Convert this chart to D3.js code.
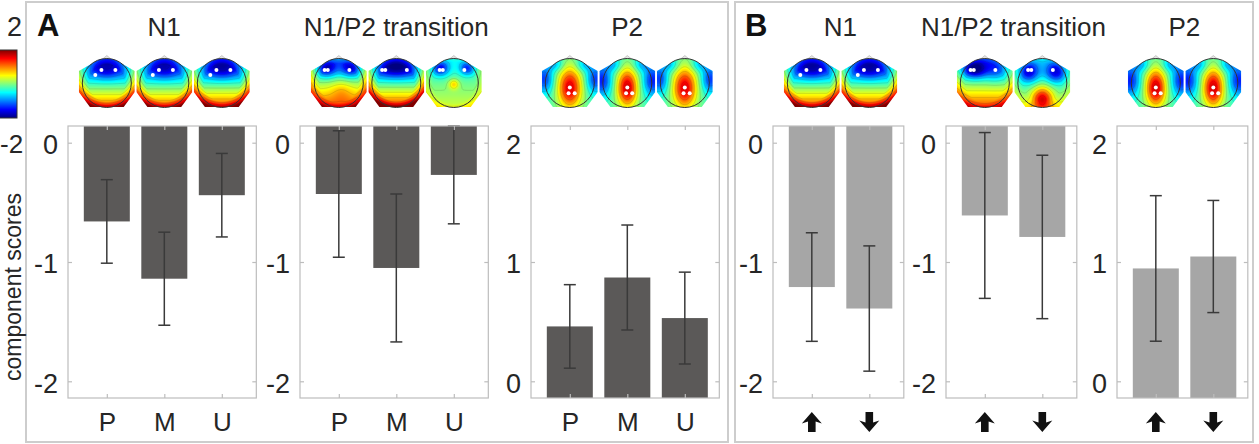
<!DOCTYPE html>
<html>
<head>
<meta charset="utf-8">
<script src="https://cdn.jsdelivr.net/npm/d3@7/dist/d3.min.js"></script>
<style>
  body { margin: 0; background: #fff; }
  svg { display: block; font-family: "Liberation Sans", Arial, sans-serif; }
</style>
</head>
<body>
<div id="graphic"></div>
<script>
// ---- data ----
const conditionsA = ['P', 'M', 'U'];
const conditionsB = ['up', 'down'];
const componentNames = ['N1', 'N1/P2 transition', 'P2'];

const meansA_N1 = [-0.66, -1.14, -0.44];
const errA_N1 = [0.35, 0.39, 0.35];
const meansA_N1P2 = [-0.43, -1.05, -0.27];
const errA_N1P2 = [0.53, 0.62, 0.41];
const meansA_P2 = [0.46, 0.87, 0.53];
const errA_P2 = [0.35, 0.44, 0.385];

const meansB_N1 = [-1.21, -1.39];
const errB_N1 = [0.455, 0.525];
const meansB_N1P2 = [-0.61, -0.79];
const errB_N1P2 = [0.695, 0.685];
const meansB_P2 = [0.946, 1.046];
const errB_P2 = [0.61, 0.47];

const yDomainNeg = [-2.14, 0.14];
const yDomainPos = [-0.14, 2.14];
const yTicksNeg = [-2, -1, 0];
const yTicksPos = [0, 1, 2];
const colorbarTicks = ['2', '-2'];
const yAxisLabel = 'component scores';

// scalp map descriptions: base level, front-back slope, rim term, gaussian blobs [x, y, amp, sx, sy], electrodes
const dotsN1 = [[-0.47, -0.33], [-0.22, -0.53], [0.35, -0.53]];
const topoN1 = { c0: 0.42, cv: 0.38, cr: 0.6, r0: 0.75, blobs: [[0, -0.5, -0.15, 0.42, 0.25]], dots: dotsN1 };
const topoN1b = { c0: 0.43, cv: 0.4, cr: 0.6, r0: 0.75, blobs: [[0, -0.5, -0.17, 0.45, 0.25]], dots: dotsN1 };
const dotsTrans = [[-0.58, -0.53], [-0.45, -0.53], [0.43, -0.53]];
const topoTransP = { c0: 0.53, cv: 0.3, cr: 0.5, r0: 0.8, blobs: [[-0.5, -0.6, -0.3, 0.3, 0.25], [0.5, -0.6, -0.28, 0.3, 0.25], [0.1, 0.3, 0.08, 0.3, 0.3]], dots: dotsTrans };
const topoTransM = { c0: 0.44, cv: 0.42, cr: 0.7, r0: 0.75, blobs: [[0, -0.55, -0.2, 0.55, 0.25]], dots: dotsTrans };
const topoTransU = { c0: 0.48, cv: 0.1, cr: 0.25, r0: 0.85, blobs: [[-0.55, -0.6, -0.3, 0.25, 0.22], [0.55, -0.6, -0.26, 0.22, 0.2], [0, 0.05, 0.18, 0.15, 0.15]], dots: dotsTrans };
const topoTransUp = { c0: 0.5, cv: 0.32, cr: 0.35, r0: 0.8, blobs: [[-0.4, -0.55, -0.36, 0.35, 0.25], [0.45, -0.5, -0.14, 0.3, 0.3]], dots: dotsTrans };
const topoTransDown = { c0: 0.45, cv: 0.1, cr: 0.2, r0: 0.8, blobs: [[-0.55, -0.45, -0.32, 0.3, 0.3], [0.55, -0.45, -0.32, 0.3, 0.3], [0, 0.65, 0.4, 0.3, 0.35]], dots: dotsTrans };
const dotsP2 = [[0, 0.18], [-0.05, 0.42], [0.2, 0.42]];
const topoP2 = { c0: 0.45, cv: 0, cr: 0, r0: 1, blobs: [[0, 0.2, 0.46, 0.35, 0.6], [-1.05, -0.15, -0.27, 0.26, 0.4], [1.05, -0.15, -0.27, 0.26, 0.4], [-0.6, -0.75, -0.14, 0.25, 0.2], [0.6, -0.75, -0.14, 0.25, 0.2]], dots: dotsP2 };
const topoP2b = { c0: 0.45, cv: 0, cr: 0, r0: 1, blobs: [[0, 0.2, 0.48, 0.3, 0.55], [-1.05, -0.1, -0.3, 0.28, 0.45], [1.05, -0.1, -0.3, 0.28, 0.45], [-0.6, -0.75, -0.14, 0.25, 0.2], [0.6, -0.75, -0.14, 0.25, 0.2]], dots: dotsP2 };

// ---- layout ----
const width = 1259, height = 444;
const axTop = 126, axBottom = 398;
const unitPx = 57.5;
const headY = 83, headR = 24.5;

const panels = [
    { left: 68, title: componentNames[0], cats: conditionsA, means: meansA_N1, errs: errA_N1, neg: true, fill: '#5b5958', topos: [topoN1, topoN1, topoN1b] },
    { left: 300, title: componentNames[1], cats: conditionsA, means: meansA_N1P2, errs: errA_N1P2, neg: true, fill: '#5b5958', topos: [topoTransP, topoTransM, topoTransU] },
    { left: 531, title: componentNames[2], cats: conditionsA, means: meansA_P2, errs: errA_P2, neg: false, fill: '#5b5958', topos: [topoP2, topoP2b, topoP2] },
    { left: 773, title: componentNames[0], cats: conditionsB, means: meansB_N1, errs: errB_N1, neg: true, fill: '#a6a6a6', topos: [topoN1b, topoN1b] },
    { left: 946, title: componentNames[1], cats: conditionsB, means: meansB_N1P2, errs: errB_N1P2, neg: true, fill: '#a6a6a6', topos: [topoTransUp, topoTransDown] },
    { left: 1117, title: componentNames[2], cats: conditionsB, means: meansB_P2, errs: errB_P2, neg: false, fill: '#a6a6a6', topos: [topoP2b, topoP2b] }
];

const svg = d3.select('#graphic').append('svg')
    .attr('width', width)
    .attr('height', height);

const defs = svg.append('defs');

function jet(t) {
    t = Math.max(0, Math.min(1, t));
    const f = (c) => Math.max(0, Math.min(1, 1.5 - Math.abs(4 * t - c)));
    return [f(3), f(2), f(1)].map((v) => Math.round(v * 255));
}

// panel frames
svg.append('rect').attr('x', 26).attr('y', 2).attr('width', 702).attr('height', 440)
    .attr('fill', 'none').attr('stroke', '#cdcdcd').attr('stroke-width', 2);
svg.append('rect').attr('x', 735).attr('y', 2).attr('width', 518).attr('height', 440)
    .attr('fill', 'none').attr('stroke', '#cdcdcd').attr('stroke-width', 2);

svg.append('text').attr('x', 37).attr('y', 36).text('A')
    .attr('font-size', 31).attr('font-weight', 'bold').attr('fill', '#111');
svg.append('text').attr('x', 745).attr('y', 36).text('B')
    .attr('font-size', 31).attr('font-weight', 'bold').attr('fill', '#111');

// colour bar
const grad = defs.append('linearGradient').attr('id', 'jetGrad')
    .attr('x1', 0).attr('y1', 1).attr('x2', 0).attr('y2', 0);
d3.range(0, 1.0001, 0.0625).forEach((t) => {
    const c = jet(t);
    grad.append('stop').attr('offset', t).attr('stop-color', `rgb(${c.join(',')})`);
});
svg.append('rect').attr('x', -1).attr('y', 50).attr('width', 18).attr('height', 68)
    .attr('fill', 'url(#jetGrad)').attr('stroke', '#333').attr('stroke-width', 1);
svg.append('text').attr('x', 22).attr('y', 36).attr('text-anchor', 'end')
    .attr('font-size', 27).attr('fill', '#262626').text(colorbarTicks[0]);
svg.append('text').attr('x', 0).attr('y', 153).attr('text-anchor', 'start')
    .attr('font-size', 26).attr('fill', '#262626').text(colorbarTicks[1]);

svg.append('text')
    .attr('transform', 'translate(21,287) rotate(-90)')
    .attr('text-anchor', 'middle')
    .attr('font-size', 23)
    .attr('fill', '#262626')
    .text(yAxisLabel);

// scalp shape clip, centred on 0,0
const shape = [[-1.14, -0.49], [-1.14, 0.37], [-0.69, 0.98], [0.69, 0.98], [1.14, 0.37], [1.14, -0.49], [0.57, -0.82]]
    .map(([u, v]) => [u * headR, v * headR]);
const shapePath = 'M' + shape.map((p) => p.join(',')).join('L') +
    `A${headR},${headR} 0 0 0 ${-0.57 * headR},${-0.82 * headR}Z`;
defs.append('clipPath').attr('id', 'scalpClip')
    .append('path').attr('d', shapePath);

const S = 60;
function fieldValues(spec) {
    const vals = new Array(S * S);
    for (let j = 0; j < S; j++) {
        for (let i = 0; i < S; i++) {
            const u = (i + 0.5 - S / 2) / headR;
            const v = (j + 0.5 - S / 2) / headR;
            const r = Math.sqrt(u * u + v * v);
            let t = spec.c0 + spec.cv * v + spec.cr * Math.max(0, r - spec.r0);
            spec.blobs.forEach(([bx, by, a, sx, sy]) => {
                t += a * Math.exp(-((u - bx) ** 2 / (2 * sx * sx) + (v - by) ** 2 / (2 * sy * sy)));
            });
            vals[j * S + i] = t;
        }
    }
    return vals;
}

function drawTopo(cx, spec) {
    const vals = fieldValues(spec);
    const canvas = document.createElement('canvas');
    canvas.width = S; canvas.height = S;
    const ctx = canvas.getContext('2d');
    const img = ctx.createImageData(S, S);
    vals.forEach((t, k) => {
        const c = jet(t);
        img.data[k * 4] = c[0]; img.data[k * 4 + 1] = c[1]; img.data[k * 4 + 2] = c[2]; img.data[k * 4 + 3] = 255;
    });
    ctx.putImageData(img, 0, 0);

    const g = svg.append('g').attr('transform', `translate(${cx},${headY})`);
    const inner = g.append('g').attr('clip-path', 'url(#scalpClip)');
    inner.append('image')
        .attr('x', -S / 2).attr('y', -S / 2).attr('width', S).attr('height', S)
        .attr('href', canvas.toDataURL());

    // faint contour lines
    const contours = d3.contours().size([S, S]).thresholds(d3.range(0.06, 1, 0.09))(vals);
    inner.append('g').attr('transform', `translate(${-S / 2},${-S / 2})`)
        .selectAll('path').data(contours).join('path')
        .attr('d', d3.geoPath())
        .attr('fill', 'none')
        .attr('stroke', 'rgba(40,40,40,0.25)')
        .attr('stroke-width', 0.5);

    g.append('path')
        .attr('d', `M${-0.16 * headR},${-0.99 * headR}L0,${-1.12 * headR}L${0.16 * headR},${-0.99 * headR}`)
        .attr('fill', '#e4e4e4').attr('stroke', '#aaa').attr('stroke-width', 0.6);
    g.append('circle').attr('r', headR)
        .attr('fill', 'none').attr('stroke', '#333').attr('stroke-width', 1);
    g.selectAll('circle.dot').data(spec.dots).join('circle')
        .attr('class', 'dot')
        .attr('cx', (d) => d[0] * headR).attr('cy', (d) => d[1] * headR)
        .attr('r', 2).attr('fill', '#fff');
}

function arrowPath(up) {
    const s = up ? 1 : -1;
    const pts = [[0, -10], [10, 1.5], [3.8, -0.5], [3.8, 10], [-3.8, 10], [-3.8, -0.5], [-10, 1.5]];
    return 'M' + pts.map(([a, b]) => `${a},${b * s}`).join('L') + 'Z';
}

function drawPanel(p) {
    const n = p.cats.length;
    const axW = unitPx * (n + 0.275);
    const x = d3.scaleLinear().domain([0.325, n + 0.6]).range([p.left, p.left + axW]);
    const y = d3.scaleLinear().domain(p.neg ? yDomainNeg : yDomainPos).range([axBottom, axTop]);
    const base = p.neg ? y.domain()[1] : y.domain()[0];
    const ticks = p.neg ? yTicksNeg : yTicksPos;
    const idx = d3.range(1, n + 1);

    const g = svg.append('g');

    // bars
    g.selectAll('rect.bar').data(p.means).join('rect')
        .attr('class', 'bar')
        .attr('x', (d, i) => x(i + 1 - 0.4))
        .attr('width', x(1.4) - x(0.6))
        .attr('y', (d) => Math.min(y(d), y(base)))
        .attr('height', (d) => Math.abs(y(d) - y(base)))
        .attr('fill', p.fill);

    // error bars, clipped to the axis limits
    const [lo, hi] = y.domain();
    const errG = g.append('g').attr('stroke', '#3a3a3a').attr('stroke-width', 1.5);
    p.means.forEach((m, i) => {
        const cx = x(i + 1);
        const top = Math.min(hi, m + p.errs[i]);
        const bot = Math.max(lo, m - p.errs[i]);
        errG.append('line').attr('x1', cx).attr('x2', cx).attr('y1', y(top)).attr('y2', y(bot));
        if (m + p.errs[i] < hi) errG.append('line').attr('x1', cx - 6).attr('x2', cx + 6).attr('y1', y(top)).attr('y2', y(top));
        if (m - p.errs[i] > lo) errG.append('line').attr('x1', cx - 6).attr('x2', cx + 6).attr('y1', y(bot)).attr('y2', y(bot));
    });

    // axis box and inward ticks
    const boxColor = '#bdbdbd';
    const leftAxis = g.append('g').attr('transform', `translate(${p.left},0)`)
        .call(d3.axisLeft(y).tickValues(ticks).tickSize(-4).tickPadding(10).tickFormat((d) => String(d)));
    const rightAxis = g.append('g').attr('transform', `translate(${p.left + axW},0)`)
        .call(d3.axisRight(y).tickValues(ticks).tickSize(-4).tickFormat(''));
    const topAxis = g.append('g').attr('transform', `translate(0,${axTop})`)
        .call(d3.axisTop(x).tickValues(idx).tickSize(-4).tickFormat(''));
    const bottomAxis = g.append('g').attr('transform', `translate(0,${axBottom})`)
        .call(d3.axisBottom(x).tickValues(idx).tickSize(-4).tickPadding(15)
            .tickFormat((d) => p.cats[d - 1].length === 1 ? p.cats[d - 1] : ''));

    [leftAxis, rightAxis, topAxis, bottomAxis].forEach((a) => {
        a.select('.domain').remove();
        a.selectAll('.tick line').attr('stroke', boxColor).attr('stroke-width', 1.2);
        a.selectAll('.tick text').attr('fill', '#262626');
    });
    leftAxis.attr('font-size', 27).attr('font-family', null);
    leftAxis.selectAll('.tick text').attr('dy', '0.4em');
    bottomAxis.attr('font-size', 26).attr('font-family', null);

    g.append('rect')
        .attr('x', p.left).attr('y', axTop).attr('width', axW).attr('height', axBottom - axTop)
        .attr('fill', 'none').attr('stroke', boxColor).attr('stroke-width', 1.2);

    // arrow labels for direction conditions
    if (p.cats[0] === 'up') {
        g.selectAll('path.arrow').data(p.cats).join('path')
            .attr('class', 'arrow')
            .attr('transform', (d, i) => `translate(${x(i + 1)},422)`)
            .attr('d', (d) => arrowPath(d === 'up'))
            .attr('fill', '#111');
    }

    // title
    svg.append('text')
        .attr('x', p.left + axW / 2 + 2).attr('y', 36)
        .attr('text-anchor', 'middle')
        .attr('font-size', 26)
        .attr('fill', '#262626')
        .text(p.title);

    // scalp maps above each bar
    p.topos.forEach((spec, i) => drawTopo(x(i + 1), spec));
}

panels.forEach(drawPanel);
</script>
</body>
</html>
